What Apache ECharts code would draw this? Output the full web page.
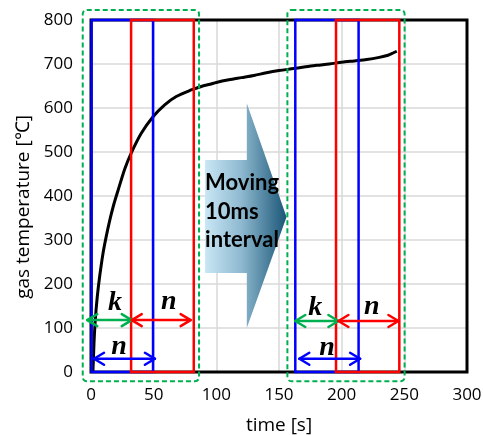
<!DOCTYPE html>
<html><head><meta charset="utf-8">
<script src="https://cdn.jsdelivr.net/npm/echarts@6/dist/echarts.min.js"></script>
<style>html,body{margin:0;padding:0;background:#fff}#c{width:483px;height:435px}</style>
</head><body><div id="c"></div>
<script>
// ---- data ----
const timeS = [1.5, 1.8, 2.4, 3.4, 5, 6.9, 9.6, 12, 15, 18, 21.5, 27, 32, 40, 49.5, 58.8, 68, 80, 88, 95, 100, 110, 120, 130, 140, 150, 160, 170, 180, 190, 200, 210, 220, 230, 237, 241, 244];
const tempC = [0, 20, 66, 118, 171, 217, 270, 306, 345, 379, 412, 462, 497, 542, 580, 607, 626, 641, 649, 654, 658, 664, 669, 674, 680, 685, 689, 693, 697, 700, 704, 707, 710, 715, 720, 725, 729];
const xTicks = [0, 50, 100, 150, 200, 250, 300];
const yTicks = [0, 100, 200, 300, 400, 500, 600, 700, 800];
// windows [start, end] in seconds
const blueWindows = [[0.5, 49.5], [163, 213.5]];
const redWindows = [[32, 82], [195.5, 246]];
const groupBoxes = [[-6.6, 86.2, -21, 823], [156.7, 250.2, -21, 823]];
// arrows [from, to, level]
const kArrows = [[-3, 32.5, 118], [163, 197.4, 116]];
const nRedArrows = [[32.5, 79.5, 118], [197.4, 245.3, 116]];
const nBlueArrows = [[2.4, 51, 30], [166.2, 214.7, 30]];
// symbol labels [x, y]
const kLabels = [[19.2, 158], [179, 146]];
const nRedLabels = [[62, 160], [224, 148]];
const nBlueLabels = [[22.3, 57], [188.3, 55]];
const movingText = ['Moving', '10ms', 'interval'];
const frameBox = [[0, 300, 0, 800]];
// big arrow outline (data coords)
const bigArrow = [[91, 482], [124.3, 482], [124.3, 611], [156, 352], [124.3, 100], [124.3, 225], [91, 225]];

const chart = echarts.init(document.getElementById('c'), null, {renderer: 'canvas'});

function rectSeries(data, color, width, dash, r, z) {
  return {
    type: 'custom', clip: false, z: z, silent: true,
    data: data,
    encode: {x: [0, 1], y: [2, 3]},
    renderItem: function (params, api) {
      const d = data[params.dataIndex];
      const y0 = d.length > 2 ? d[2] : 0, y1 = d.length > 2 ? d[3] : 800;
      const p0 = api.coord([d[0], y1]);
      const p1 = api.coord([d[1], y0]);
      return {
        type: 'rect',
        shape: {x: p0[0], y: p0[1], width: p1[0] - p0[0], height: p1[1] - p0[1], r: r},
        style: {fill: null, stroke: color, lineWidth: width, lineDash: dash}
      };
    }
  };
}

function arrowSeries(data, color, z) {
  return {
    type: 'custom', clip: false, z: z, silent: true,
    data: data,
    encode: {x: [0, 1], y: 2},
    renderItem: function (params, api) {
      const d = data[params.dataIndex];
      const a = api.coord([d[0], d[2]]);
      const b = api.coord([d[1], d[2]]);
      const L = 10, H = 6;
      const st = {stroke: color, lineWidth: 2.5, fill: null, lineCap: 'round', lineJoin: 'round'};
      return {
        type: 'group',
        children: [
          {type: 'line', shape: {x1: a[0], y1: a[1], x2: b[0], y2: b[1]}, style: st},
          {type: 'polyline', shape: {points: [[a[0] + L, a[1] - H], [a[0], a[1]], [a[0] + L, a[1] + H]]}, style: st},
          {type: 'polyline', shape: {points: [[b[0] - L, b[1] - H], [b[0], b[1]], [b[0] - L, b[1] + H]]}, style: st}
        ]
      };
    }
  };
}

function labelSeries(data, txt, color, z) {
  return {
    type: 'custom', clip: false, z: z, silent: true,
    data: data,
    renderItem: function (params, api) {
      const d = data[params.dataIndex];
      const p = api.coord(d);
      return {
        type: 'text',
        style: {x: p[0], y: p[1], text: txt, fill: '#000', align: 'center', verticalAlign: 'middle',
          font: 'italic bold 28px "Liberation Serif", "DejaVu Serif", serif'}
      };
    }
  };
}

const option = {
  animation: false,
  backgroundColor: '#fff',
  grid: {left: 91, right: 16, top: 20, bottom: 63, containLabel: false, outerBoundsMode: 'none'},
  xAxis: {
    type: 'value', min: 0, max: 300, interval: 50,
    name: 'time [s]', nameLocation: 'middle', nameGap: 44,
    nameTextStyle: {fontFamily: 'Open Sans', fontSize: 19, color: '#000'},
    axisLine: {show: false}, axisTick: {show: false},
    axisLabel: {fontFamily: 'Open Sans', fontSize: 17, color: '#000', margin: 15,
      formatter: v => xTicks.includes(v) ? String(v) : ''},
    splitLine: {show: true, lineStyle: {color: '#d9d9d9', width: 1.5}}
  },
  yAxis: {
    type: 'value', min: 0, max: 800, interval: 100,
    name: 'gas temperature [℃]', nameLocation: 'middle', nameGap: 58,
    nameTextStyle: {fontFamily: 'Open Sans', fontSize: 19, color: '#000', padding: [0, 22, 0, 0]},
    axisLine: {show: false}, axisTick: {show: false},
    axisLabel: {fontFamily: 'Open Sans', fontSize: 17, color: '#000', margin: 18,
      formatter: v => yTicks.includes(v) ? String(v) : ''},
    splitLine: {show: true, lineStyle: {color: '#d9d9d9', width: 1.5}}
  },
  series: [
    rectSeries(frameBox, '#000', 3, null, 0, 2),
    {
      type: 'custom', clip: false, z: 3, silent: true, data: [0],
      renderItem: function (params, api) {
        const pts = bigArrow.map(p => api.coord(p));
        const x0 = api.coord([91, 0])[0];
        const children = [{
          type: 'polygon', shape: {points: pts},
          style: {fill: new echarts.graphic.LinearGradient(0, 0, 1, 0, [
            {offset: 0, color: '#c9e7f5'}, {offset: 0.45, color: '#8db8cf'}, {offset: 1, color: '#1b5677'}
          ])}
        }];
        const ys = [183, 212, 240];
        movingText.forEach((t, i) => {
          children.push({type: 'text', style: {x: x0, y: ys[i], text: t, fill: '#000', align: 'left', verticalAlign: 'middle',
            font: 'bold 22px Lato, "Open Sans", sans-serif'}});
        });
        return {type: 'group', children: children};
      }
    },
    {
      type: 'line', data: timeS.map((t, i) => [t, tempC[i]]), z: 4,
      smooth: 0.3, symbol: 'none', silent: true,
      lineStyle: {color: '#000', width: 3}
    },
    rectSeries(blueWindows, '#0000ff', 2.5, null, 0, 5),
    rectSeries(redWindows, '#ff0000', 2.5, null, 0, 6),
    rectSeries(groupBoxes, '#00b050', 2, [5, 3], 4, 7),
    arrowSeries(kArrows, '#00b050', 8),
    arrowSeries(nRedArrows, '#ff0000', 8),
    arrowSeries(nBlueArrows, '#0000ff', 8),
    labelSeries(kLabels, 'k', '#000', 9),
    labelSeries(nRedLabels, 'n', '#000', 9),
    labelSeries(nBlueLabels, 'n', '#000', 9)
  ]
};
chart.setOption(option);
</script>
</body></html>
